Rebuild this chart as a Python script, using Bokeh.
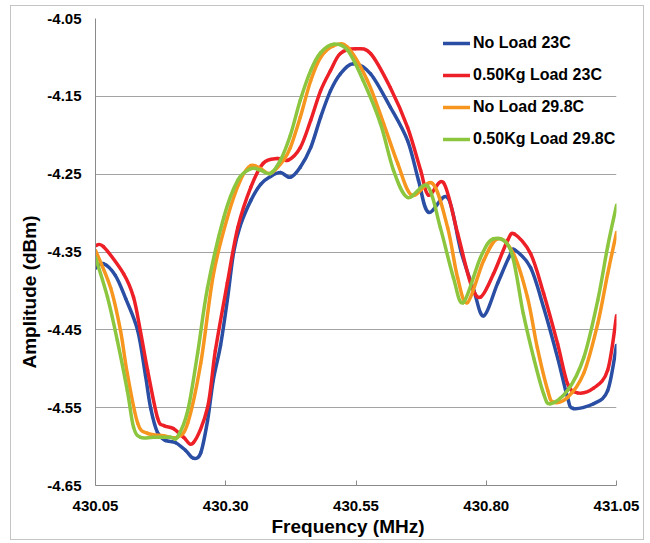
import math
from bokeh.plotting import figure
from bokeh.models import (Range1d, FixedTicker, PrintfTickFormatter, Legend, LegendItem, Title)
from bokeh.embed import file_html
from bokeh.resources import INLINE

# ---------------- data ----------------
series_names = ["No Load 23C", "0.50Kg Load 23C", "No Load 29.8C", "0.50Kg Load 29.8C"]
series_colors = ["#2a4ea3", "#ee2027", "#f7961e", "#8cc63f"]

freq_noload_23 = [430.050, 430.065, 430.088, 430.108, 430.131, 430.146, 430.156, 430.169, 430.184, 430.204,
                  430.223, 430.238, 430.252, 430.265, 430.276, 430.290, 430.303, 430.315, 430.328, 430.348,
                  430.367, 430.386, 430.405, 430.424, 430.443, 430.463, 430.482, 430.501, 430.520, 430.545,
                  430.578, 430.616, 430.649, 430.670, 430.689, 430.726, 430.751, 430.776, 430.795, 430.822,
                  430.847, 430.856, 430.885, 430.910, 430.937, 430.956, 430.967, 431.006, 431.033, 431.050]
amp_noload_23 = [-4.371, -4.365, -4.380, -4.410, -4.451, -4.509, -4.551, -4.582, -4.592, -4.595,
                 -4.605, -4.615, -4.608, -4.567, -4.515, -4.470, -4.412, -4.351, -4.316, -4.284,
                 -4.263, -4.253, -4.248, -4.254, -4.241, -4.216, -4.177, -4.143, -4.121, -4.108,
                 -4.121, -4.164, -4.207, -4.258, -4.299, -4.280, -4.348, -4.399, -4.432, -4.390,
                 -4.352, -4.348, -4.370, -4.421, -4.486, -4.537, -4.551, -4.545, -4.528, -4.470]

freq_load_23 = [430.050, 430.065, 430.104, 430.123, 430.136, 430.150, 430.169, 430.181, 430.200, 430.219,
                430.238, 430.265, 430.280, 430.303, 430.323, 430.348, 430.372, 430.399, 430.420, 430.443,
                430.463, 430.482, 430.501, 430.520, 430.549, 430.578, 430.616, 430.649, 430.674, 430.689,
                430.718, 430.745, 430.770, 430.789, 430.814, 430.841, 430.854, 430.885, 430.910, 430.937,
                430.956, 430.975, 431.006, 431.033, 431.050]
amp_load_23 = [-4.342, -4.343, -4.378, -4.408, -4.451, -4.502, -4.563, -4.573, -4.577, -4.588,
               -4.595, -4.550, -4.477, -4.390, -4.319, -4.267, -4.236, -4.230, -4.232, -4.216,
               -4.181, -4.143, -4.117, -4.095, -4.089, -4.095, -4.139, -4.190, -4.245, -4.277,
               -4.261, -4.326, -4.390, -4.408, -4.378, -4.335, -4.327, -4.352, -4.403, -4.468,
               -4.519, -4.531, -4.525, -4.502, -4.432]

freq_noload_298 = [430.050, 430.079, 430.098, 430.111, 430.131, 430.150, 430.181, 430.207, 430.227, 430.252,
                   430.276, 430.303, 430.328, 430.348, 430.367, 430.386, 430.411, 430.424, 430.443, 430.463,
                   430.482, 430.507, 430.534, 430.572, 430.603, 430.630, 430.657, 430.697, 430.726, 430.745,
                   430.764, 430.795, 430.822, 430.852, 430.879, 430.898, 430.918, 430.929, 430.956, 430.987,
                   431.014, 431.033, 431.050]
amp_noload_298 = [-4.348, -4.396, -4.451, -4.506, -4.570, -4.583, -4.586, -4.588, -4.570, -4.493,
                  -4.380, -4.306, -4.258, -4.239, -4.243, -4.249, -4.232, -4.216, -4.177, -4.130,
                  -4.100, -4.085, -4.087, -4.130, -4.185, -4.236, -4.277, -4.262, -4.319, -4.383,
                  -4.415, -4.361, -4.333, -4.352, -4.408, -4.473, -4.528, -4.543, -4.537, -4.506,
                  -4.442, -4.378, -4.325]

freq_load_298 = [430.050, 430.073, 430.092, 430.111, 430.123, 430.136, 430.161, 430.194, 430.207, 430.227,
                 430.246, 430.265, 430.296, 430.323, 430.348, 430.367, 430.386, 430.405, 430.424, 430.443,
                 430.463, 430.482, 430.507, 430.534, 430.564, 430.597, 430.622, 430.649, 430.687,
                 430.712, 430.737, 430.756, 430.789, 430.814, 430.847, 430.871, 430.891, 430.910, 430.923,
                 430.956, 430.987, 431.014, 431.033, 431.050]
amp_load_298 = [-4.357, -4.408, -4.464, -4.528, -4.575, -4.588, -4.588, -4.588, -4.588, -4.554,
                -4.480, -4.396, -4.306, -4.258, -4.243, -4.245, -4.249, -4.232, -4.200, -4.155,
                -4.117, -4.094, -4.083, -4.091, -4.130, -4.185, -4.245, -4.280, -4.265,
                -4.319, -4.383, -4.415, -4.357, -4.333, -4.348, -4.429, -4.486, -4.532, -4.545,
                -4.528, -4.486, -4.412, -4.343, -4.290]

x_ticks = [430.05, 430.30, 430.55, 430.80, 431.05]
y_ticks = [-4.65, -4.55, -4.45, -4.35, -4.25, -4.15, -4.05]

FONT = "Liberation Sans"


def smooth_segments(xs, ys):
    """Bezier control points for a smoothed line through the data points (Excel-style)."""
    n = len(xs)
    out = {k: [] for k in ("x0", "y0", "x1", "y1", "cx0", "cy0", "cx1", "cy1")}
    for i in range(n - 1):
        i0, i3 = max(i - 1, 0), min(i + 2, n - 1)
        out["x0"].append(xs[i]); out["y0"].append(ys[i])
        out["x1"].append(xs[i + 1]); out["y1"].append(ys[i + 1])
        out["cx0"].append(xs[i] + (xs[i + 1] - xs[i0]) / 6.0)
        out["cy0"].append(ys[i] + (ys[i + 1] - ys[i0]) / 6.0)
        out["cx1"].append(xs[i + 1] - (xs[i3] - xs[i]) / 6.0)
        out["cy1"].append(ys[i + 1] - (ys[i3] - ys[i]) / 6.0)
    return out


p = figure(width=634, height=535, output_backend="svg", toolbar_location=None,
           x_range=Range1d(430.05, 431.05), y_range=Range1d(-4.65, -4.05),
           min_border_left=84, min_border_right=29, min_border_top=12, min_border_bottom=56)
p.styles = {"border": "1px solid #c4c4c4", "margin-left": "10px", "margin-top": "5px"}
p.outline_line_color = None
p.background_fill_color = "white"
p.border_fill_color = "white"

# grid
p.xgrid.grid_line_color = None
p.ygrid.grid_line_color = "#a3a3a3"
p.ygrid.grid_line_width = 1
p.ygrid.ticker = FixedTicker(ticks=y_ticks)

# axes
for ax in (p.xaxis, p.yaxis):
    ax.axis_line_color = "#8a8a8a"
    ax.axis_line_width = 1
    ax.major_label_text_font = FONT
    ax.major_label_text_font_style = "bold"
    ax.major_label_text_font_size = "15px"
    ax.major_label_text_color = "black"
    ax.minor_tick_line_color = None

p.xaxis.major_label_standoff = 15
p.yaxis.major_label_standoff = 14

p.xaxis.ticker = FixedTicker(ticks=x_ticks)
p.xaxis.formatter = PrintfTickFormatter(format="%.2f")
p.xaxis.major_tick_in = 5
p.xaxis.major_tick_out = 0
p.xaxis.major_tick_line_color = "#8a8a8a"

p.yaxis.ticker = FixedTicker(ticks=y_ticks)
p.yaxis.formatter = PrintfTickFormatter(format="%.2f")
p.yaxis.major_tick_in = 0
p.yaxis.major_tick_out = 0

# smoothed lines
freqs = [freq_noload_23, freq_load_23, freq_noload_298, freq_load_298]
amps = [amp_noload_23, amp_load_23, amp_noload_298, amp_load_298]
renderers = []
for f, a, c in zip(freqs, amps, series_colors):
    seg = smooth_segments(f, a)
    r = p.bezier(source=seg, x0="x0", y0="y0", x1="x1", y1="y1", cx0="cx0", cy0="cy0",
                 cx1="cx1", cy1="cy1", line_color=c, line_width=3.5, line_cap="round")
    renderers.append(r)

legend = Legend(items=[LegendItem(label=n, renderers=[r]) for n, r in zip(series_names, renderers)],
                location=(348, 336), orientation="vertical",
                label_text_font=FONT, label_text_font_style="bold", label_text_font_size="16px",
                label_text_color="black", glyph_width=27, glyph_height=20, label_height=20,
                label_standoff=3, spacing=12, padding=0, margin=0,
                border_line_color=None, background_fill_alpha=0)
p.add_layout(legend)

# axis titles
p.add_layout(Title(text="Amplitude (dBm)", align="left", offset=117,
                   text_font=FONT, text_font_style="bold", text_font_size="19px",
                   text_color="black"), "left")
p.add_layout(Title(text="Frequency (MHz)", align="left", offset=176, standoff=0,
                   text_font=FONT, text_font_style="bold", text_font_size="19px",
                   text_color="black"), "below")

open("out.html", "w").write(file_html(p, INLINE))
